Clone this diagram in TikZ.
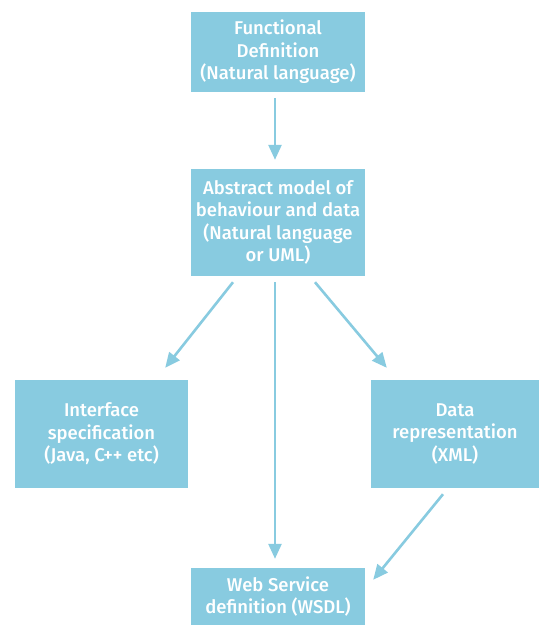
\documentclass[tikz,border=0pt]{standalone}
\usepackage{fontspec}
\setmainfont{Fira Sans}[UprightFont=* Medium]
\usetikzlibrary{arrows.meta,calc}
\definecolor{flowblue}{HTML}{88CBE0}
\tikzset{
  box/.style={fill=flowblue, draw=none, text=white, align=center,
    font=\fontsize{18.5}{22.5}\selectfont, inner sep=0pt},
  flow/.style={draw=flowblue, line width=2.6pt,
    -{Triangle[length=15pt,width=13pt]}},
}
\begin{document}
\begin{tikzpicture}[x=1pt,y=1pt]
\useasboundingbox (0,0) rectangle (539,-625);
\fill[white] (0,0) rectangle (539,-625);

\node[box, minimum width=174pt, minimum height=80pt] (func) at (278,-52)
  {Functional\\Definition\\(Natural language)};
\node[box, minimum width=174pt, minimum height=107pt] (model) at (278,-222.5)
  {Abstract model of\\behaviour and data\\(Natural language\\or UML)};
\node[box, minimum width=173pt, minimum height=108pt] (iface) at (101.5,-434)
  {Interface\\specification\\(Java, C++ etc)};
\node[box, minimum width=168pt, minimum height=108pt] (data) at (455,-434)
  {Data\\representation\\(XML)};
\node[box, minimum width=174pt, minimum height=57pt] (wsdl) at (278,-596.5)
  {Web Service\\definition (WSDL)};

\draw[flow] ($(func.south)+(-3,-6)$) -- ($(model.north)+(-3,9)$);
\draw[flow] ($(model.south)+(-45,-6)$) -- ($(iface.north east)+(-23,12)$);
\draw[flow] ($(model.south)+(-3,-6)$) -- ($(wsdl.north)+(-3,9)$);
\draw[flow] ($(model.south)+(37,-6)$) -- ($(data.north west)+(16,12)$);
\draw[flow] ($(data.south)+(-12,-6)$) -- ($(wsdl.north east)+(8,-12)$);
\end{tikzpicture}
\end{document}
